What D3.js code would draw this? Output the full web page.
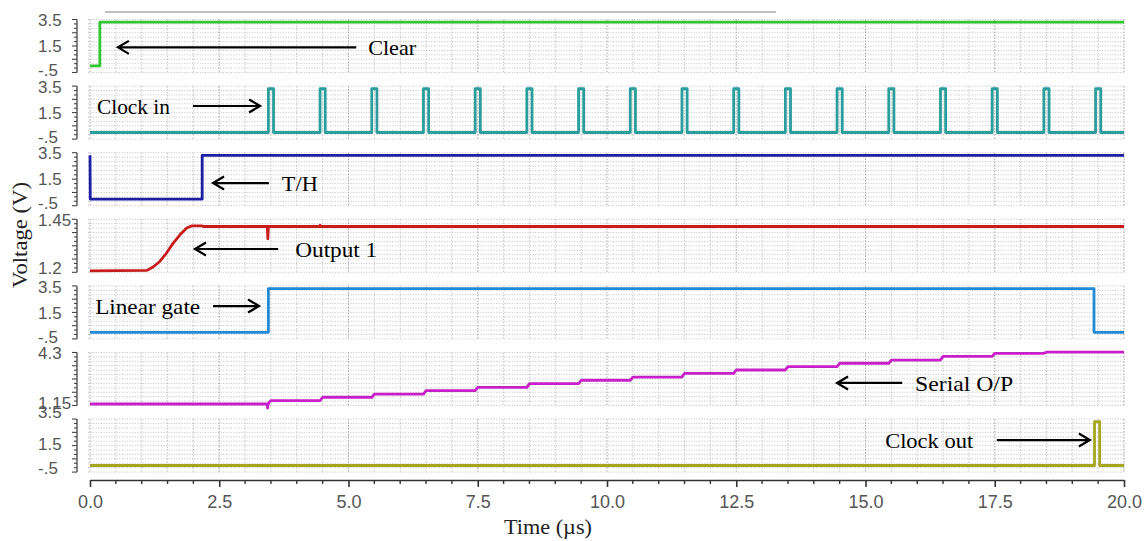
<!DOCTYPE html>
<html><head><meta charset="utf-8">
<script src="https://cdn.jsdelivr.net/npm/d3@7"></script>
<style>html,body{margin:0;padding:0;background:#fff;} svg{display:block}</style>
</head><body>
<svg id="chart" width="1145" height="541"></svg>
<script>
// ---------------- DATA ----------------
const panelNames = ["Clear", "Clock in", "T/H", "Output 1", "Linear gate", "Serial O/P", "Clock out"];
const panelDomains = [[-0.5, 3.5], [-0.5, 3.5], [-0.5, 3.5], [1.2, 1.45], [-0.5, 3.5], [1.15, 4.3], [-0.5, 3.5]];
const yTickValues = [[3.5, 1.5, -0.5], [3.5, 1.5, -0.5], [3.5, 1.5, -0.5], [1.45, 1.2], [3.5, 1.5, -0.5], [4.3, 1.15], [3.5, 1.5, -0.5]];
const yTickLabels = [["3.5", "1.5", "-.5"], ["3.5", "1.5", "-.5"], ["3.5", "1.5", "-.5"], ["1.45", "1.2"], ["3.5", "1.5", "-.5"], ["4.3", "1.15"], ["3.5", "1.5", "-.5"]];
const seriesColors = ["#33c633", "#2a9e9c", "#1d1fa3", "#c81c1c", "#2289d6", "#c820c8", "#a6a61e"];

const timeTicks = [0, 2.5, 5, 7.5, 10, 12.5, 15, 17.5, 20];
const timeTickLabels = ["0.0", "2.5", "5.0", "7.5", "10.0", "12.5", "15.0", "17.5", "20.0"];

// Clear
const clearTime = [0, 0.19, 0.19, 20];
const clearVolt = [0, 0, 3.3, 3.3];

// Clock in (pulse edges)
const clockInRise = [3.45, 4.45, 5.45, 6.45, 7.45, 8.45, 9.45, 10.45, 11.45, 12.45, 13.45, 14.45, 15.45, 16.45, 17.45, 18.45, 19.45];
const clockInFall = [3.55, 4.55, 5.55, 6.55, 7.55, 8.55, 9.55, 10.55, 11.55, 12.55, 13.55, 14.55, 15.55, 16.55, 17.55, 18.55, 19.55];
const clockInLow = 0;
const clockInHigh = 3.3;

// T/H
const thTime = [0, 0.005, 2.17, 2.17, 20];
const thVolt = [3.3, 0, 0, 3.3, 3.3];

// Output 1
const out1Time = [0, 1.10, 1.22, 1.35, 1.48, 1.61, 1.74, 1.87, 1.97, 2.17, 2.19, 3.43, 3.44, 3.45, 4.44, 4.45, 4.46, 20];
const out1Volt = [1.207, 1.209, 1.225, 1.251, 1.291, 1.338, 1.377, 1.409, 1.419, 1.419, 1.416, 1.416, 1.358, 1.416, 1.416, 1.422, 1.416, 1.416];

// Linear gate
const gateTime = [0, 3.45, 3.45, 19.42, 19.42, 20];
const gateVolt = [0, 0, 3.3, 3.3, 0, 0];

// Serial O/P (staircase)
const serialStepTime = [3.45, 4.45, 5.45, 6.45, 7.45, 8.45, 9.45, 10.45, 11.45, 12.45, 13.45, 14.45, 15.45, 16.45, 17.45, 18.45];
const serialLevel = [1.24, 1.44, 1.64, 1.83, 2.03, 2.23, 2.45, 2.65, 2.84, 3.06, 3.26, 3.46, 3.66, 3.85, 4.07, 4.25, 4.32];
const serialGlitch = 1.0;

// Clock out
const clockOutTime = [0, 19.43, 19.43, 19.53, 19.53, 20];
const clockOutVolt = [0, 0, 3.3, 3.3, 0, 0];

// Annotations (time / voltage units of their panel)
const annoPanel = [0, 1, 2, 3, 4, 5, 6];
const annoText = ["Clear", "Clock in", "T/H", "Output 1", "Linear gate", "Serial O/P", "Clock out"];
const annoTextT = [5.38, 0.135, 3.71, 3.97, 0.10, 15.96, 15.38];
const annoTextW = [48, 73, 36, 82, 105, 98, 88];
const annoV = [1.40, 2.0, 1.21, 1.31, 1.98, 2.49, 1.92];
const annoFromT = [5.15, 1.99, 3.46, 3.64, 2.38, 15.71, 17.54];
const annoToT = [0.54, 3.29, 2.38, 2.03, 3.27, 14.45, 19.34];

// ---------------- BUILD SERIES ----------------
function zip(t, v) { return t.map((d, i) => [d, v[i]]); }
const clockInPts = [[0, clockInLow]];
clockInRise.forEach((r, i) => {
  clockInPts.push([r, clockInLow], [r, clockInHigh], [clockInFall[i], clockInHigh], [clockInFall[i], clockInLow]);
});
clockInPts.push([20, clockInLow]);

const serialPts = [[0, serialLevel[0]]];
serialStepTime.forEach((t, i) => {
  if (i === 0) {
    serialPts.push([t - 0.02, serialLevel[0]], [t - 0.015, serialGlitch], [t, serialLevel[0] + 0.05]);
  } else {
    serialPts.push([t, serialLevel[i]]);
  }
  serialPts.push([t + 0.05, serialLevel[i + 1]]);
});
serialPts.push([20, serialLevel[serialLevel.length - 1]]);

const series = [
  zip(clearTime, clearVolt),
  clockInPts,
  zip(thTime, thVolt),
  zip(out1Time, out1Volt),
  zip(gateTime, gateVolt),
  serialPts,
  zip(clockOutTime, clockOutVolt)
];

// ---------------- LAYOUT ----------------
const svg = d3.select("#chart");
const x = d3.scaleLinear().domain([0, 20]).range([90, 1124]);
const panelTop0 = 19.5, panelStep = 66.6, panelH = 53;
const rulerX = 77, labelX = 38;
const labelShift = [[0.5, 0, -2.5], [0.5, 0, -2.5], [0.5, 0, -2.5], [0.5, -4], [0.5, 0, -2.5], [0.5, -3], [-7, -2, -4]];
const ys = panelNames.map((n, i) => {
  const top = panelTop0 + i * panelStep;
  return d3.scaleLinear().domain(panelDomains[i]).range([top + panelH, top]);
});

// stray grey line at top of reference
svg.append("line").attr("x1", x(0.29)).attr("x2", x(13.27)).attr("y1", 12).attr("y2", 12)
  .attr("stroke", "#a8a8a8").attr("stroke-width", 1.5);

const gridV = d3.range(0, 20.001, 0.5);
panelNames.forEach((name, i) => {
  const y = ys[i];
  const top = y.range()[1], bot = y.range()[0];
  const g = svg.append("g");
  const rows = d3.range(0, 13).map(k => top + k * panelH / 12);
  g.selectAll("line.h").data(rows).join("line")
    .attr("x1", x(0) - 2).attr("x2", x(20)).attr("y1", d => d).attr("y2", d => d)
    .attr("stroke", "#c0c0c0").attr("stroke-width", 1).attr("stroke-dasharray", "1,1.6");
  g.selectAll("line.v").data(gridV).join("line")
    .attr("x1", d => x(d)).attr("x2", d => x(d)).attr("y1", top).attr("y2", bot)
    .attr("stroke", d => (d % 2.5 === 0) ? "#a6a6a6" : "#c6c6c6")
    .attr("stroke-width", 1).attr("stroke-dasharray", "1.5,1.5");
  g.append("line").attr("x1", rulerX).attr("x2", rulerX).attr("y1", top).attr("y2", bot)
    .attr("stroke", "#444").attr("stroke-width", 1.3);
  g.selectAll("line.t").data(rows).join("line")
    .attr("x1", (d, k) => rulerX - (k % 3 === 0 ? 5 : 3)).attr("x2", rulerX)
    .attr("y1", d => d).attr("y2", d => d)
    .attr("stroke", "#444").attr("stroke-width", 1.1);
  yTickValues[i].forEach((v, k) => {
    g.append("text").attr("x", labelX).attr("y", y(v) + labelShift[i][k]).attr("dy", "0.36em")
      .attr("font-family", "Liberation Sans, Arial, sans-serif").attr("font-size", 17)
      .attr("fill", "#555").text(yTickLabels[i][k]);
  });
});

// series
panelNames.forEach((name, i) => {
  const y = ys[i];
  const line = d3.line().x(d => x(d[0])).y(d => y(d[1]));
  svg.append("path").datum(series[i]).attr("d", line)
    .attr("fill", "none").attr("stroke", seriesColors[i]).attr("stroke-width", 2.8)
    .attr("stroke-linejoin", "round").attr("stroke-linecap", "butt");
});

// annotations
annoText.forEach((t, k) => {
  const y = ys[annoPanel[k]];
  const yy = y(annoV[k]);
  const x1 = x(annoFromT[k]), x2 = x(annoToT[k]);
  const dir = x2 < x1 ? 1 : -1;
  svg.append("path")
    .attr("d", `M${x1},${yy}L${x2},${yy}M${x2 + dir * 11},${yy - 6.5}L${x2},${yy}L${x2 + dir * 11},${yy + 6.5}`)
    .attr("fill", "none").attr("stroke", "#000").attr("stroke-width", 2.2).attr("stroke-linejoin", "miter");
  svg.append("text").attr("x", x(annoTextT[k])).attr("y", yy).attr("dy", "0.35em")
    .attr("font-family", "Liberation Serif, Times New Roman, serif").attr("font-size", 22)
    .attr("fill", "#000").attr("textLength", annoTextW[k]).attr("lengthAdjust", "spacingAndGlyphs")
    .text(t);
});

// x axis
const axisY = 480;
const xAxis = d3.axisBottom(x).tickValues(timeTicks).tickFormat((d, i) => timeTickLabels[i])
  .tickSize(7).tickSizeOuter(0).tickPadding(8);
const ax = svg.append("g").attr("transform", `translate(0,${axisY})`).call(xAxis);
ax.select(".domain").attr("stroke", "#333").attr("stroke-width", 1.6);
ax.selectAll(".tick line").attr("stroke", "#333").attr("stroke-width", 1.6);
ax.selectAll(".tick text").attr("font-family", "Liberation Sans, Arial, sans-serif").attr("font-size", 18).attr("fill", "#555");
svg.append("g").selectAll("line").data(gridV.filter(d => d % 2.5 !== 0)).join("line")
  .attr("x1", d => x(d)).attr("x2", d => x(d)).attr("y1", axisY).attr("y2", axisY + 4)
  .attr("stroke", "#333").attr("stroke-width", 1.4);

// axis titles
svg.append("text").attr("x", 548).attr("y", 527).attr("dy", "0.35em").attr("text-anchor", "middle")
  .attr("font-family", "Liberation Serif, Times New Roman, serif").attr("font-size", 21).attr("fill", "#222")
  .attr("textLength", 88).attr("lengthAdjust", "spacingAndGlyphs").text("Time (µs)");
svg.append("text").attr("transform", "translate(20,235) rotate(-90)").attr("dy", "0.35em").attr("text-anchor", "middle")
  .attr("font-family", "Liberation Serif, Times New Roman, serif").attr("font-size", 21).attr("fill", "#222")
  .attr("textLength", 106).attr("lengthAdjust", "spacingAndGlyphs").text("Voltage (V)");
</script>
</body></html>
